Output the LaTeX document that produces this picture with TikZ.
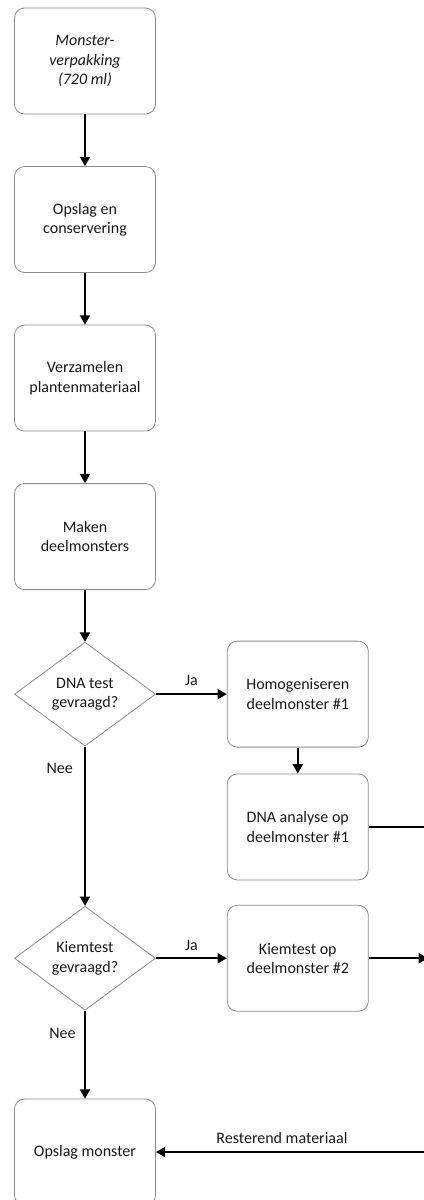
\documentclass[tikz,border=0pt]{standalone}
\usepackage{fontspec}
\setmainfont{Carlito}
\usetikzlibrary{positioning}
\usetikzlibrary{shapes.geometric}
\usetikzlibrary{arrows.meta}

\begin{document}
\begin{tikzpicture}[box/.style = {draw=black!45, line width=0.6pt, rounded corners=7.5pt, minimum width=105.75pt, minimum height=79.5pt, align=center, font=\fontsize{12}{14.5}\selectfont, text=black!90},
    choice/.style = {draw=black!45, line width=0.6pt, diamond, aspect=1.36, inner sep=0pt, minimum width=105.75pt, minimum height=78pt, align=center, font=\fontsize{12}{14.5}\selectfont, text=black!90},
    arr/.style = {draw, line width=1.5pt, -{Triangle[length=7pt,width=7.5pt]}},
    lbl/.style = {font=\fontsize{12}{14}\selectfont, text=black!90}]
            \useasboundingbox (0,0) rectangle (318pt,-900pt);
            \coordinate (edge) at (318pt,0);
            \node[box](m1) at (63.75pt,-45.75pt){\textit{Monster-}\\\textit{verpakking}\\\textit{(720 ml)}};
            \node[box](m2)[below =38.8pt of m1]{Opslag en\\conservering};
            \draw[arr] (m1) -- (m2);
            \node[box](m3)[below =38.8pt of m2]{Verzamelen\\plantenmateriaal};
            \draw[arr] (m2) -- (m3);
            \node[box](m4)[below =38.8pt of m3]{Maken\\deelmonsters};
            \draw[arr] (m3) -- (m4);
            \node[choice](d1)[below =38.8pt of m4]{DNA test\\gevraagd?};
            \draw[arr] (m4) -- (d1);
            \node[box](h1)[right =53.25pt of d1]{Homogeniseren\\deelmonster \#1};
            \draw[arr] (d1) -- node[lbl, above=2pt]{Ja} (h1);
            \node[box](a1)[below =19.5pt of h1]{DNA analyse op\\deelmonster \#1};
            \draw[arr] (h1) -- (a1);
            \draw[line width=1.5pt] (a1) -- (a1.east -| edge);
            \node[choice](d2)[below =119.5pt of d1]{Kiemtest\\gevraagd?};
            \draw[arr] (d1) -- node[lbl, pos=0.14, left=5pt]{Nee} (d2);
            \node[box](k1)[right =53.25pt of d2]{Kiemtest op\\deelmonster \#2};
            \draw[arr] (d2) -- node[lbl, above=2pt]{Ja} (k1);
            \coordinate (kend) at ([xshift=3pt]k1.east -| edge);
            \draw[arr] (k1) -- (kend);
            \node[box](o1)[below =66pt of d2]{Opslag monster};
            \draw[arr] (d2) -- node[lbl, pos=0.26, left=3pt]{Nee} (o1);
            \coordinate (rest) at (o1.east -| edge);
            \draw[arr] (rest) -- node[lbl, above=2pt, pos=0.53]{Resterend materiaal} (o1);
        \end{tikzpicture}
\end{document}
